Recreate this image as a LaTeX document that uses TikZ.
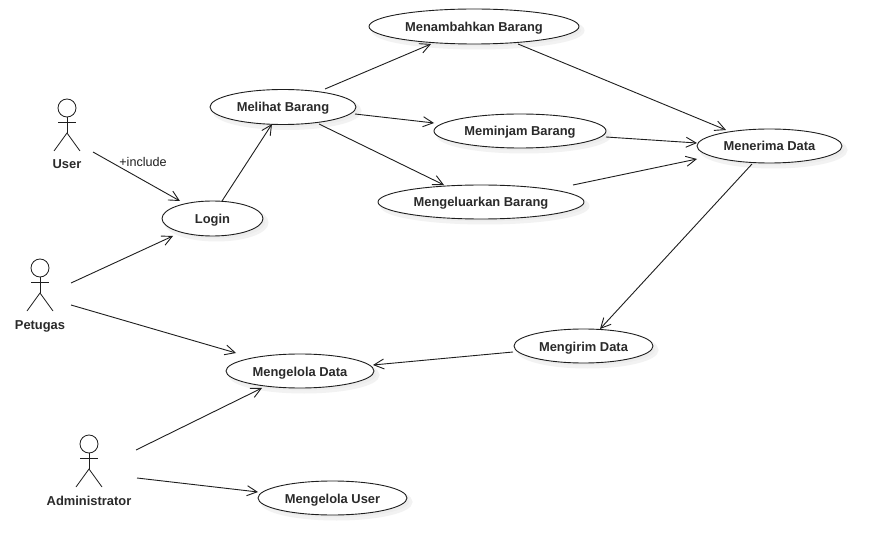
\documentclass[tikz,border=0pt]{standalone}
\usepackage{fontspec}
\setmainfont{Liberation Sans}
\usetikzlibrary{arrows.meta,shapes.geometric,shadows}
\definecolor{ink}{HTML}{1E1E1E}
\definecolor{textink}{HTML}{2A2A2A}
\tikzset{
  x=1pt,y=-1pt,
  usecase/.style={ellipse,draw=ink,line width=0.9pt,fill=white,inner sep=0pt,
    text height=10pt,text depth=0pt,
    font=\bfseries\fontsize{12.9}{15}\selectfont,text=textink,
    general shadow={shadow xshift=4pt,shadow yshift=-4pt,fill=black!7,draw=black!5,line width=3pt}},
  actorname/.style={inner sep=0pt,text height=10pt,text depth=0pt,font=\bfseries\fontsize{12.9}{15}\selectfont,text=textink},
  edgelabel/.style={inner sep=0pt,font=\fontsize{12.6}{15}\selectfont,text=ink},
  flow/.style={draw=ink,line width=0.9pt,-{Straight Barb[length=10pt,width=10pt,line width=0.9pt]}},
  stick/.style={draw=ink,line width=0.8pt},
  pics/stickman/.style={code={
    \draw[stick] (0,-56) circle[radius=9];
    \draw[stick] (0,-47) -- (0,-31);
    \draw[stick] (-9,-41.5) -- (9,-41.5);
    \draw[stick] (-13,-13) -- (0,-31) -- (13,-13);
  }}
}
\begin{document}
\begin{tikzpicture}
\useasboundingbox[fill=white] (0,0) rectangle (881,556);
% actors
\node[actorname] (user) at (67,164) {User};
\node[actorname] (petugas) at (40,324) {Petugas};
\node[actorname] (admin) at (89,500) {Administrator};
\pic at (user.center) {stickman};
\pic at (petugas.center) {stickman};
\pic at (admin.center) {stickman};
% use cases
\node[usecase,minimum width=101,minimum height=35] (login) at (212.5,218.5) {Login};
\node[usecase,minimum width=146,minimum height=35] (melihat) at (283,107) {Melihat Barang};
\node[usecase,minimum width=210,minimum height=35] (tambah) at (474,26.5) {Menambahkan Barang};
\node[usecase,minimum width=172,minimum height=34] (pinjam) at (520,131) {Meminjam Barang};
\node[usecase,minimum width=206,minimum height=34] (keluar) at (481,202) {Mengeluarkan Barang};
\node[usecase,minimum width=145,minimum height=34] (terima) at (769.5,146) {Menerima Data};
\node[usecase,minimum width=139,minimum height=34] (kirim) at (583.5,346) {Mengirim Data};
\node[usecase,minimum width=148,minimum height=34] (mdata) at (300,371) {Mengelola Data};
\node[usecase,minimum width=149,minimum height=34] (muser) at (332.5,498) {Mengelola User};
% connectors
\draw[flow] ([shift={(26,-12)}]user.center) -- ([shift={(-32.5,-17.5)}]login.center);
\node[edgelabel] (inc) at (143,161.5) {+include};
\draw[flow] ([shift={(9.5,-17.5)}]login.center) -- ([shift={(-11,17)}]melihat.center);
\draw[flow] ([shift={(31,-41)}]petugas.center) -- ([shift={(-39.5,17.5)}]login.center);
\draw[flow] ([shift={(31,-19)}]petugas.center) -- ([shift={(-64,-18)}]mdata.center);
\draw[flow] ([shift={(47,-50)}]admin.center) -- ([shift={(-38,17)}]mdata.center);
\draw[flow] ([shift={(48,-22)}]admin.center) -- ([shift={(-74.5,-6)}]muser.center);
\draw[flow] ([shift={(42,-18)}]melihat.center) -- ([shift={(-43,17.5)}]tambah.center);
\draw[flow] ([shift={(72,7)}]melihat.center) -- ([shift={(-86,-8)}]pinjam.center);
\draw[flow] ([shift={(36,17)}]melihat.center) -- ([shift={(-37,-17)}]keluar.center);
\draw[flow] ([shift={(44,17.5)}]tambah.center) -- ([shift={(-43.5,-16)}]terima.center);
\draw[flow] ([shift={(86,6)}]pinjam.center) -- ([shift={(-72.5,-3)}]terima.center);
\draw[flow] ([shift={(92,-17)}]keluar.center) -- ([shift={(-72.5,13)}]terima.center);
\draw[flow] ([shift={(-17.5,18)}]terima.center) -- ([shift={(16.5,-17)}]kirim.center);
\draw[flow] ([shift={(-70.5,6)}]kirim.center) -- ([shift={(73,-6)}]mdata.center);
\end{tikzpicture}
\end{document}
